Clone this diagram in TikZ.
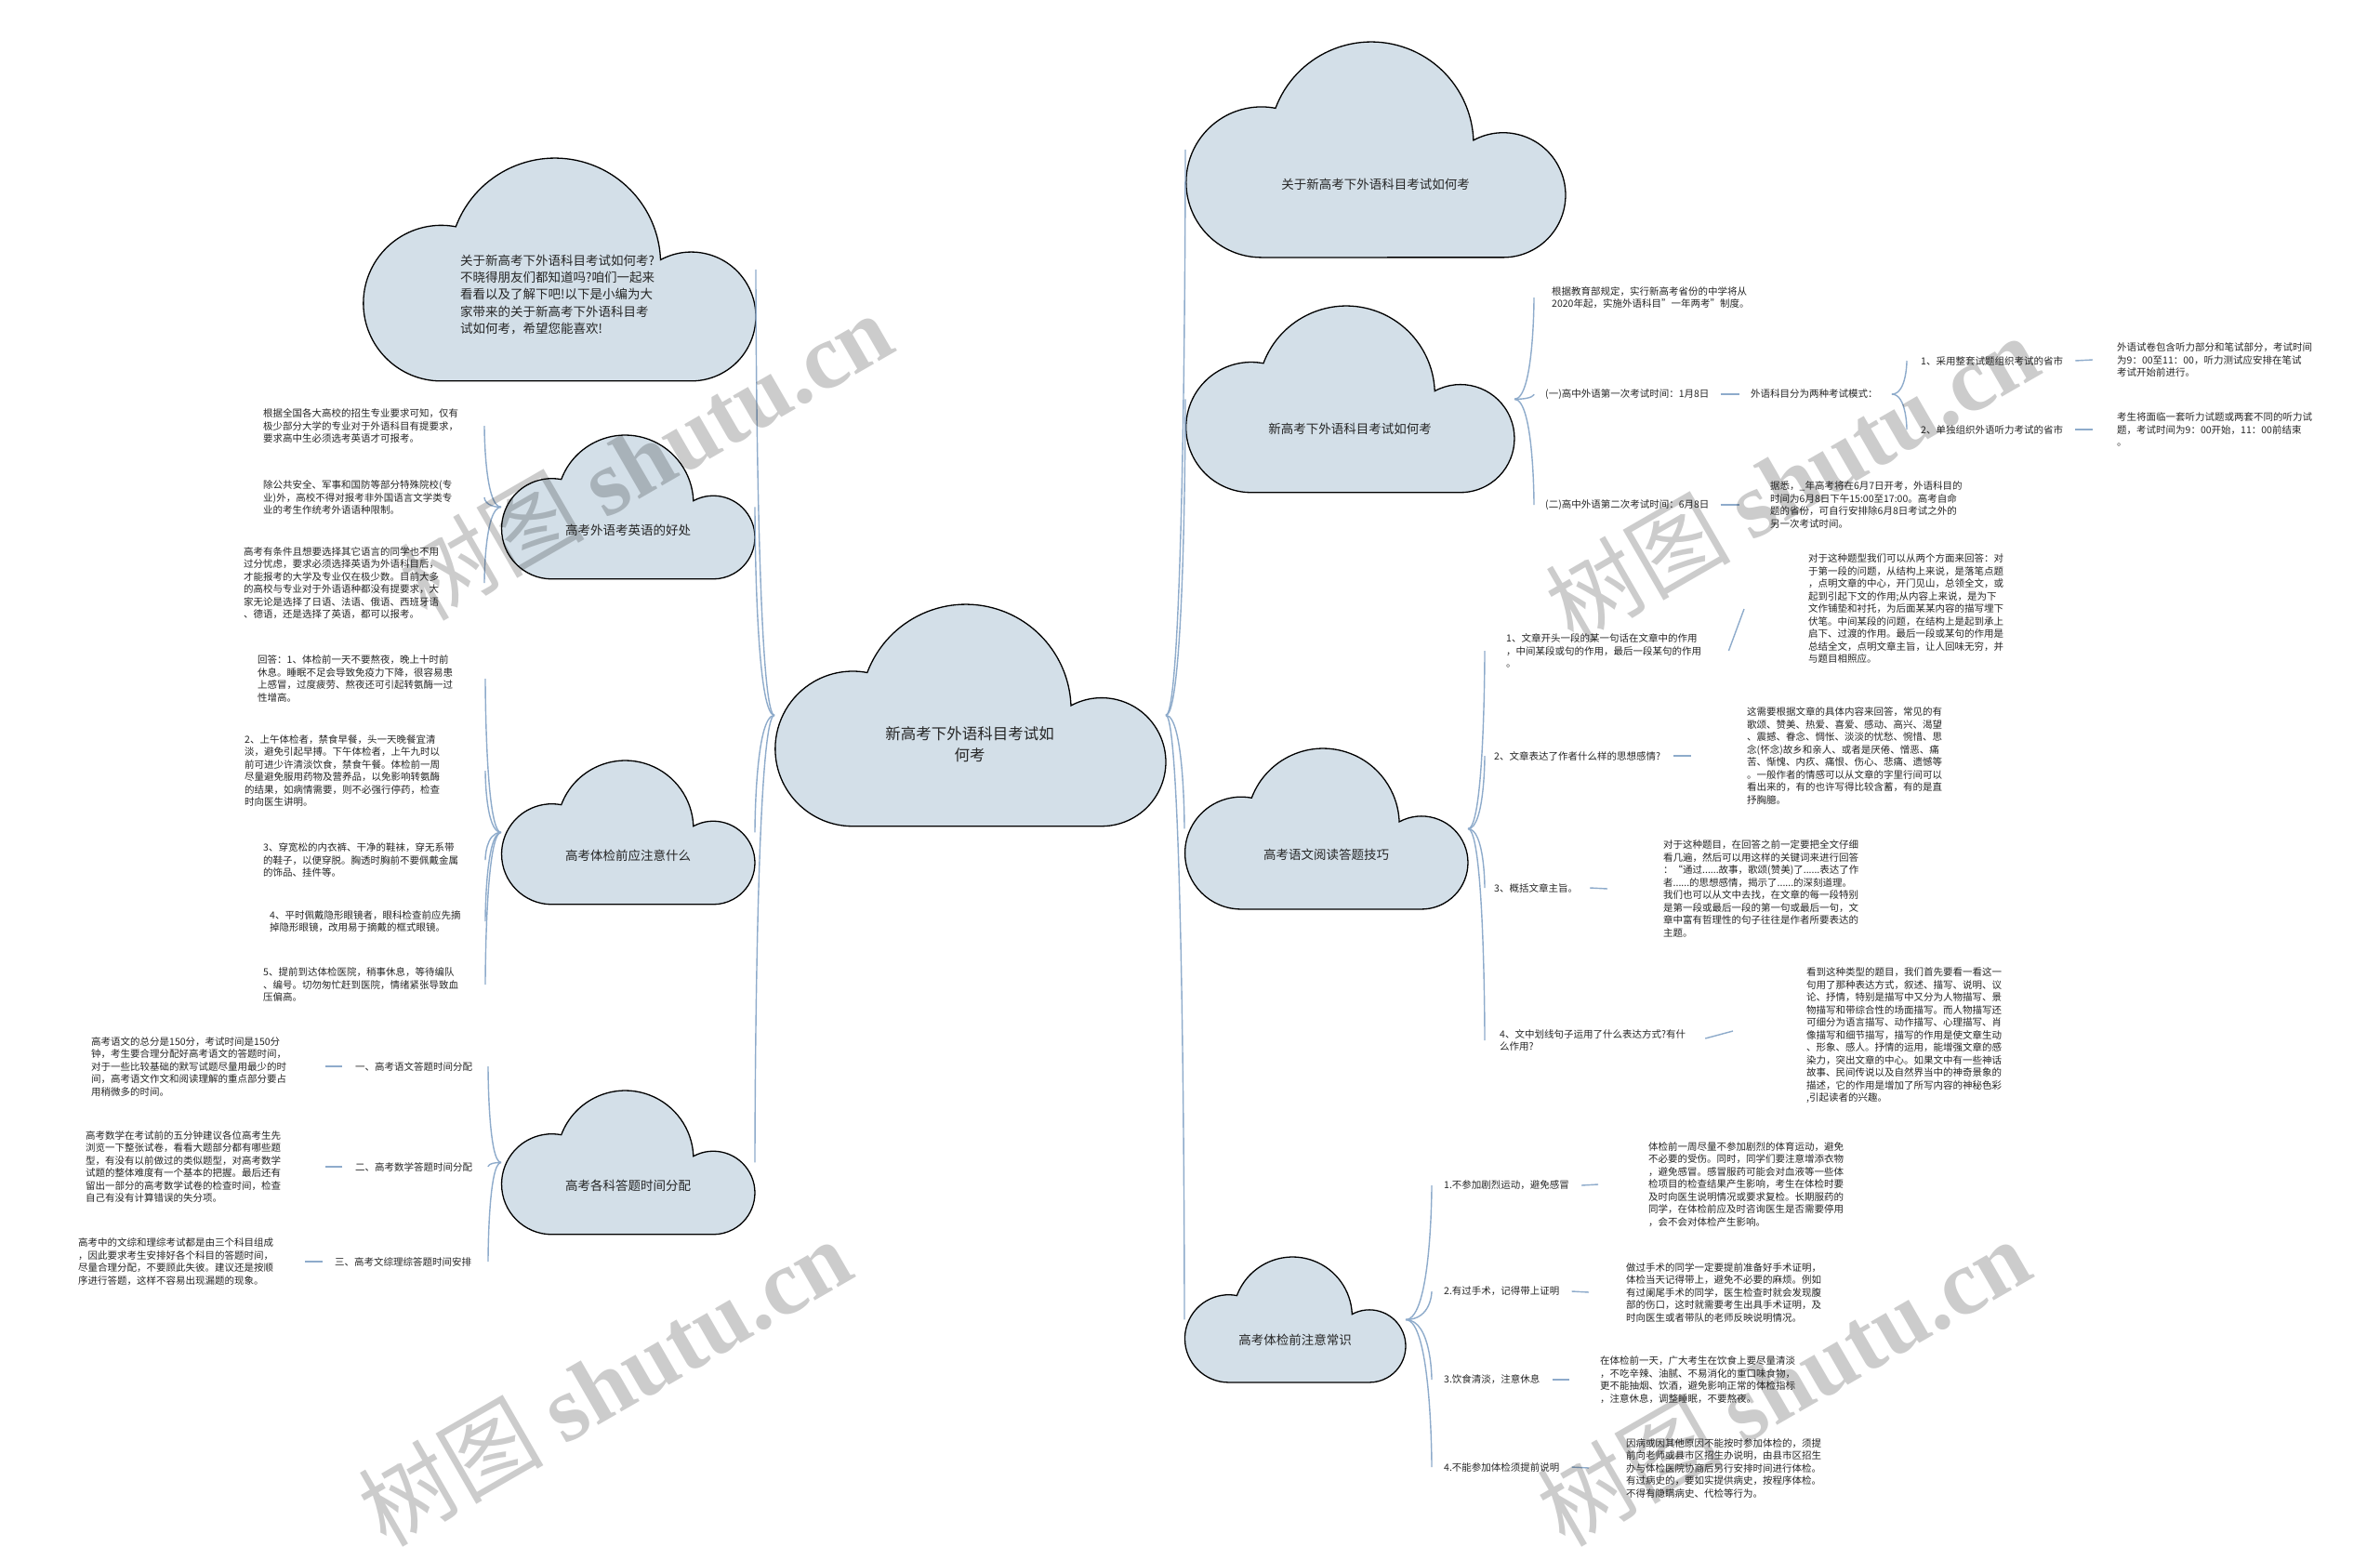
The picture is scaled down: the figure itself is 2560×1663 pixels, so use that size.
\documentclass[tikz,border=0pt]{standalone}
\usepackage{fontspec}
\setmainfont{Noto Sans CJK SC}
\newfontfamily\wmserif{Liberation Serif}
\usetikzlibrary{calc}
\definecolor{cloudfill}{HTML}{D3DFE8}
\definecolor{lineblue}{HTML}{8EABCB}
\definecolor{txtc}{HTML}{262626}
\tikzset{
  cloudst/.style={fill=cloudfill, draw=black, line width=1.3pt},
  conn/.style={draw=lineblue, line width=1.4pt},
  txt/.style={inner sep=0pt, align=left, text=txtc, font=\fontsize{10.5}{13.5}\selectfont, anchor=west},
  clbl/.style={inner sep=0pt, text=txtc, font=\fontsize{13.5}{18}\selectfont},
  ctxt/.style={inner sep=0pt, align=left, text=txtc, font=\fontsize{13.5}{18.3}\selectfont, anchor=west},
  mtxt/.style={inner sep=0pt, align=center, text=txtc, font=\fontsize{16.5}{23}\selectfont},
  wm/.style={inner sep=0pt, rotate=30, text=black, text opacity=0.2, font=\fontsize{100}{100}\selectfont},
}
\newcommand{\drawcloud}[4]{%
  \begin{scope}[shift={(#2,#3)}, scale=#4]
    \filldraw[cloudst] (0.2,0.567) arc[start angle=90, end angle=280.8, radius=0.198]
      arc[start angle=200.6, end angle=357.8, radius=0.269]
      arc[start angle=241.5, end angle=450, radius=0.164] -- cycle;
  \end{scope}
  \coordinate (#1-w) at ({#2},{#3+0.2835*#4});
  \coordinate (#1-e) at ({#2+#4},{#3+0.2835*#4});
  \coordinate (#1-c) at ({#2+0.5*#4},{#3+0.374*#4});
}
\newcommand{\bcurve}[2]{\draw[conn] (#1) .. controls (#2 |- #1) and (#2) .. (#2);}
\begin{document}
\begin{tikzpicture}[x=1pt, y=-1pt]
\fill[white] (0,0) rectangle (2560,1663);
\useasboundingbox (0,0) rectangle (2560,1663);

% ---------- clouds ----------
\drawcloud{M}{833}{650}{421}
\drawcloud{I}{390}{170}{423}
\drawcloud{A}{539}{468}{273}
\drawcloud{B}{539}{818}{273}
\drawcloud{Cc}{539}{1173}{273}
\drawcloud{Ra}{1275}{45}{409}
\drawcloud{Rb}{1275}{329}{354}
\drawcloud{Rc}{1274}{805}{305}
\drawcloud{Rd}{1274}{1352}{238}

\node[mtxt] (mt) at (1043,801) {新高考下外语科目考试如\\何考};
\node[ctxt] (it) at (495,317) {关于新高考下外语科目考试如何考?\\
不晓得朋友们都知道吗?咱们一起来\\
看看以及了解下吧!以下是小编为大\\
家带来的关于新高考下外语科目考\\
试如何考，希望您能喜欢!};
\node[clbl] (al) at (A-c) {高考外语考英语的好处};
\node[clbl] (bl) at (B-c) {高考体检前应注意什么};
\node[clbl] (cl) at (Cc-c) {高考各科答题时间分配};
\node[clbl] (ral) at (Ra-c) {关于新高考下外语科目考试如何考};
\node[clbl] (rbl) at (Rb-c) {新高考下外语科目考试如何考};
\node[clbl] (rcl) at (Rc-c) {高考语文阅读答题技巧};
\node[clbl] (rdl) at (Rd-c) {高考体检前注意常识};

% ---------- left: A ----------
\node[txt] (a1) at (283,458) {根据全国各大高校的招生专业要求可知，仅有\\
极少部分大学的专业对于外语科目有提要求，\\
要求高中生必须选考英语才可报考。};
\node[txt] (a2) at (283,535) {除公共安全、军事和国防等部分特殊院校(专\\
业)外，高校不得对报考非外国语言文学类专\\
业的考生作统考外语语种限制。};
\node[txt] (a3) at (262,627) {高考有条件且想要选择其它语言的同学也不用\\
过分忧虑，要求必须选择英语为外语科目后，\\
才能报考的大学及专业仅在极少数。目前大多\\
的高校与专业对于外语语种都没有提要求，大\\
家无论是选择了日语、法语、俄语、西班牙语\\
、德语，还是选择了英语，都可以报考。};

% ---------- left: B ----------
\node[txt] (b1) at (277,730) {回答：1、体检前一天不要熬夜，晚上十时前\\
休息。睡眠不足会导致免疫力下降，很容易患\\
上感冒，过度疲劳、熬夜还可引起转氨酶一过\\
性增高。};
\node[txt] (b2) at (263,829) {2、上午体检者，禁食早餐，头一天晚餐宜清\\
淡，避免引起早搏。下午体检者，上午九时以\\
前可进少许清淡饮食，禁食午餐。体检前一周\\
尽量避免服用药物及营养品，以免影响转氨酶\\
的结果，如病情需要，则不必强行停药，检查\\
时向医生讲明。};
\node[txt] (b3) at (283,925) {3、穿宽松的内衣裤、干净的鞋袜，穿无系带\\
的鞋子，以便穿脱。胸透时胸前不要佩戴金属\\
的饰品、挂件等。};
\node[txt] (b4) at (290,991) {4、平时佩戴隐形眼镜者，眼科检查前应先摘\\
掉隐形眼镜，改用易于摘戴的框式眼镜。};
\node[txt] (b5) at (283,1059) {5、提前到达体检医院，稍事休息，等待编队\\
、编号。切勿匆忙赶到医院，情绪紧张导致血\\
压偏高。};

% ---------- left: C ----------
\node[txt] (c1) at (382,1147) {一、高考语文答题时间分配};
\node[txt] (c2) at (382,1255) {二、高考数学答题时间分配};
\node[txt] (c3) at (360,1357) {三、高考文综理综答题时间安排};
\node[txt] (c1t) at (98,1147) {高考语文的总分是150分，考试时间是150分\\
钟，考生要合理分配好高考语文的答题时间，\\
对于一些比较基础的默写试题尽量用最少的时\\
间，高考语文作文和阅读理解的重点部分要占\\
用稍微多的时间。};
\node[txt] (c2t) at (92,1255) {高考数学在考试前的五分钟建议各位高考生先\\
浏览一下整张试卷，看看大题部分都有哪些题\\
型，有没有以前做过的类似题型，对高考数学\\
试题的整体难度有一个基本的把握。最后还有\\
留出一部分的高考数学试卷的检查时间，检查\\
自己有没有计算错误的失分项。};
\node[txt] (c3t) at (84,1357) {高考中的文综和理综考试都是由三个科目组成\\
，因此要求考生安排好各个科目的答题时间，\\
尽量合理分配，不要顾此失彼。建议还是按顺\\
序进行答题，这样不容易出现漏题的现象。};

% ---------- right: Rb ----------
\node[txt] (r2a) at (1669,320) {根据教育部规定，实行新高考省份的中学将从\\
2020年起，实施外语科目"一年两考"制度。};
\node[txt] (r2b) at (1662,424) {(一)高中外语第一次考试时间：1月8日};
\node[txt] (mode) at (1883,424) {外语科目分为两种考试模式：};
\node[txt] (m1) at (2066,388) {1、采用整套试题组织考试的省市};
\node[txt] (m2) at (2066,462) {2、单独组织外语听力考试的省市};
\node[txt] (m1t) at (2277,387) {外语试卷包含听力部分和笔试部分，考试时间\\
为9：00至11：00，听力测试应安排在笔试\\
考试开始前进行。};
\node[txt] (m2t) at (2277,462) {考生将面临一套听力试题或两套不同的听力试\\
题，考试时间为9：00开始，11：00前结束\\
。};
\node[txt] (r2c) at (1662,543) {(二)高中外语第二次考试时间：6月8日};
\node[txt] (r2ct) at (1904,543) {据悉，\_年高考将在6月7日开考，外语科目的\\
时间为6月8日下午15:00至17:00。高考自命\\
题的省份，可自行安排除6月8日考试之外的\\
另一次考试时间。};

% ---------- right: Rc ----------
\node[txt] (q1) at (1620,700) {1、文章开头一段的某一句话在文章中的作用\\
，中间某段或句的作用，最后一段某句的作用\\
。};
\node[txt] (q1t) at (1945,655) {对于这种题型我们可以从两个方面来回答：对\\
于第一段的问题，从结构上来说，是落笔点题\\
，点明文章的中心，开门见山，总领全文，或\\
起到引起下文的作用;从内容上来说，是为下\\
文作铺垫和衬托，为后面某某内容的描写埋下\\
伏笔。中间某段的问题，在结构上是起到承上\\
启下、过渡的作用。最后一段或某句的作用是\\
总结全文，点明文章主旨，让人回味无穷，并\\
与题目相照应。};
\node[txt] (q2) at (1607,813) {2、文章表达了作者什么样的思想感情?};
\node[txt] (q2t) at (1879,813) {这需要根据文章的具体内容来回答，常见的有\\
歌颂、赞美、热爱、喜爱、感动、高兴、渴望\\
、震撼、眷念、惆怅、淡淡的忧愁、惋惜、思\\
念(怀念)故乡和亲人、或者是厌倦、憎恶、痛\\
苦、惭愧、内疚、痛恨、伤心、悲痛、遗憾等\\
。一般作者的情感可以从文章的字里行间可以\\
看出来的，有的也许写得比较含蓄，有的是直\\
抒胸臆。};
\node[txt] (q3) at (1607,955) {3、概括文章主旨。};
\node[txt] (q3t) at (1789,956) {对于这种题目，在回答之前一定要把全文仔细\\
看几遍，然后可以用这样的关键词来进行回答\\
：“通过......故事，歌颂(赞美)了......表达了作\\
者......的思想感情，揭示了......的深刻道理。\\
我们也可以从文中去找，在文章的每一段特别\\
是第一段或最后一段的第一句或最后一句，文\\
章中富有哲理性的句子往往是作者所要表达的\\
主题。};
\node[txt] (q4) at (1613,1119) {4、文中划线句子运用了什么表达方式?有什\\
么作用?};
\node[txt] (q4t) at (1943,1114) {看到这种类型的题目，我们首先要看一看这一\\
句用了那种表达方式，叙述、描写、说明、议\\
论、抒情，特别是描写中又分为人物描写、景\\
物描写和带综合性的场面描写。而人物描写还\\
可细分为语言描写、动作描写、心理描写、肖\\
像描写和细节描写，描写的作用是使文章生动\\
、形象、感人。抒情的运用，能增强文章的感\\
染力，突出文章的中心。如果文中有一些神话\\
故事、民间传说以及自然界当中的神奇景象的\\
描述，它的作用是增加了所写内容的神秘色彩\\
,引起读者的兴趣。};

% ---------- right: Rd ----------
\node[txt] (h1) at (1553,1275) {1.不参加剧烈运动，避免感冒};
\node[txt] (h1t) at (1773,1274) {体检前一周尽量不参加剧烈的体育运动，避免\\
不必要的受伤。同时，同学们要注意增添衣物\\
，避免感冒。感冒服药可能会对血液等一些体\\
检项目的检查结果产生影响，考生在体检时要\\
及时向医生说明情况或要求复检。长期服药的\\
同学，在体检前应及时咨询医生是否需要停用\\
，会不会对体检产生影响。};
\node[txt] (h2) at (1553,1389) {2.有过手术，记得带上证明};
\node[txt] (h2t) at (1749,1390) {做过手术的同学一定要提前准备好手术证明，\\
体检当天记得带上，避免不必要的麻烦。例如\\
有过阑尾手术的同学，医生检查时就会发现腹\\
部的伤口，这时就需要考生出具手术证明，及\\
时向医生或者带队的老师反映说明情况。};
\node[txt] (h3) at (1553,1484) {3.饮食清淡，注意休息};
\node[txt] (h3t) at (1721,1484) {在体检前一天，广大考生在饮食上要尽量清淡\\
，不吃辛辣、油腻、不易消化的重口味食物，\\
更不能抽烟、饮酒，避免影响正常的体检指标\\
，注意休息，调整睡眠，不要熬夜。};
\node[txt] (h4) at (1553,1578) {4.不能参加体检须提前说明};
\node[txt] (h4t) at (1749,1579) {因病或因其他原因不能按时参加体检的，须提\\
前向老师或县市区招生办说明，由县市区招生\\
办与体检医院协商后另行安排时间进行体检。\\
有过病史的，要如实提供病史，按程序体检。\\
不得有隐瞒病史、代检等行为。};

% ---------- connector end points ----------
\coordinate (Abx) at (521,0);
\coordinate (Bbx) at (522,0);
\coordinate (Cbx) at (525,0);
\coordinate (Rbx) at (1650,0);
\coordinate (Mbx) at (2051,0);
\coordinate (Rcx) at (1597,0);
\coordinate (Rdx) at (1540,0);
\path (a1.east -| Abx) coordinate (a1e) (a2.east -| Abx) coordinate (a2e) (a3.east -| Abx) coordinate (a3e);
\path (b1.east -| Bbx) coordinate (b1e) (b2.east -| Bbx) coordinate (b2e) (b3.east -| Bbx) coordinate (b3e)
      (b4.east -| Bbx) coordinate (b4e) (b5.east -| Bbx) coordinate (b5e);
\path (c1.east -| Cbx) coordinate (c1e) (c2.east -| Cbx) coordinate (c2e) (c3.east -| Cbx) coordinate (c3e);
\path (r2a.west -| Rbx) coordinate (r2aw) (r2b.west -| Rbx) coordinate (r2bw) (r2c.west -| Rbx) coordinate (r2cw);
\path ([xshift=15pt]mode.east) coordinate (modee) (m1.west -| Mbx) coordinate (m1w) (m2.west -| Mbx) coordinate (m2w);
\path (q1.west -| Rcx) coordinate (q1w) (q2.west -| Rcx) coordinate (q2w) (q3.west -| Rcx) coordinate (q3w) (q4.west -| Rcx) coordinate (q4w);
\path (h1.west -| Rdx) coordinate (h1w) (h2.west -| Rdx) coordinate (h2w) (h3.west -| Rdx) coordinate (h3w) (h4.west -| Rdx) coordinate (h4w);

% ---------- level 1 ----------
\bcurve{M-w}{I-e}
\bcurve{M-w}{A-e}
\bcurve{M-w}{B-e}
\bcurve{M-w}{Cc-e}
\bcurve{M-e}{Ra-w}
\bcurve{M-e}{Rb-w}
\bcurve{M-e}{Rc-w}
\bcurve{M-e}{Rd-w}

% ---------- level 2 braces ----------
\bcurve{A-w}{a1e} \bcurve{A-w}{a2e} \bcurve{A-w}{a3e}
\bcurve{B-w}{b1e} \bcurve{B-w}{b2e} \bcurve{B-w}{b3e} \bcurve{B-w}{b4e} \bcurve{B-w}{b5e}
\bcurve{Cc-w}{c1e} \bcurve{Cc-w}{c2e} \bcurve{Cc-w}{c3e}
\bcurve{Rb-e}{r2aw} \bcurve{Rb-e}{r2bw} \bcurve{Rb-e}{r2cw}
\bcurve{modee}{m1w} \bcurve{modee}{m2w}
\bcurve{Rc-e}{q1w} \bcurve{Rc-e}{q2w} \bcurve{Rc-e}{q3w} \bcurve{Rc-e}{q4w}
\bcurve{Rd-e}{h1w} \bcurve{Rd-e}{h2w} \bcurve{Rd-e}{h3w} \bcurve{Rd-e}{h4w}

% ---------- dashes ----------
\draw[conn] ([xshift=-14pt]c1.west) -- ([xshift=42pt]c1t.east);
\draw[conn] ([xshift=-14pt]c2.west) -- ([xshift=48pt]c2t.east);
\draw[conn] ([xshift=-13pt]c3.west) -- ([xshift=34pt]c3t.east);
\draw[conn] ([xshift=12pt]r2b.east) -- ([xshift=-12pt]mode.west);
\draw[conn] ([xshift=13pt]m1.east) -- ([xshift=-26pt]m1t.west);
\draw[conn] ([xshift=13pt]m2.east) -- ([xshift=-26pt]m2t.west);
\draw[conn] ([xshift=12pt]r2c.east) -- ([xshift=-33pt]r2ct.west);
\draw[conn] ([xshift=29pt]q1.east) -- ([xshift=-69pt]q1t.west);
\draw[conn] ([xshift=14pt]q2.east) -- ([xshift=-60pt]q2t.west);
\draw[conn] ([xshift=13pt]q3.east) -- ([xshift=-60pt]q3t.west);
\draw[conn] ([xshift=21pt,yshift=2pt]q4.east) -- ([xshift=-79pt,yshift=5pt]q4t.west);
\draw[conn] ([xshift=13pt]h1.east) -- ([xshift=-54pt]h1t.west);
\draw[conn] ([xshift=13pt]h2.east) -- ([xshift=-40pt]h2t.west);
\draw[conn] ([xshift=13pt]h3.east) -- ([xshift=-33pt]h3t.west);
\draw[conn] ([xshift=13pt]h4.east) -- ([xshift=-40pt]h4t.west);

% ---------- watermarks ----------
\node[wm] (wm1) at (694,490) {树图 {\wmserif\bfseries shutu.cn}};
\node[wm] (wm2) at (1927,514) {树图 {\wmserif\bfseries shutu.cn}};
\node[wm] (wm3) at (650,1486) {树图 {\wmserif\bfseries shutu.cn}};
\node[wm] (wm4) at (1918,1486) {树图 {\wmserif\bfseries shutu.cn}};
\end{tikzpicture}
\end{document}
